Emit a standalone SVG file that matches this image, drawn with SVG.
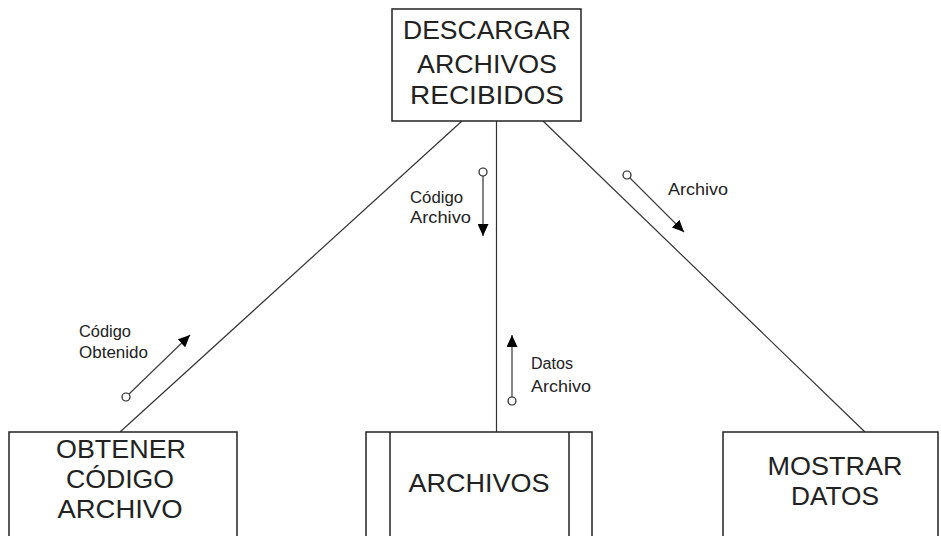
<svg xmlns="http://www.w3.org/2000/svg" width="941" height="536" viewBox="0 0 941 536">
<style>
.box{fill:#fff;stroke:#222;stroke-width:1.5}
.big{font-family:"Liberation Sans",Arial,sans-serif;font-size:26px;fill:#222;text-anchor:middle}
.small{font-family:"Liberation Sans",Arial,sans-serif;font-size:16px;fill:#222}
.conn{stroke:#333;stroke-width:1.2;fill:none}
.flow{stroke:#444;stroke-width:1.3;fill:none}
.dot{fill:#fff;stroke:#222;stroke-width:1.2}
</style>
<defs>
<marker id="ah" markerUnits="userSpaceOnUse" markerWidth="13" markerHeight="11" refX="12" refY="5.5" orient="auto">
<path d="M0,0 L12,5.5 L0,11 z" fill="#000"/>
</marker>
</defs>
<rect width="941" height="536" fill="#fff"/>
<g id="connectors">
<line class="conn" x1="462" y1="121" x2="120" y2="432"/>
<line class="conn" x1="496.5" y1="121" x2="496.5" y2="432"/>
<line class="conn" x1="543" y1="121" x2="865" y2="432"/>
<g id="flow-codigo-obtenido">
<line class="flow" x1="129" y1="394" x2="190" y2="335" marker-end="url(#ah)"/>
<circle class="dot" cx="126" cy="397" r="4"/>
<text class="small" x="79" y="337" textLength="52" lengthAdjust="spacingAndGlyphs">Código</text>
<text class="small" x="79" y="358" textLength="69" lengthAdjust="spacingAndGlyphs">Obtenido</text>
</g>
<g id="flow-codigo-archivo">
<line class="flow" x1="483" y1="176" x2="483" y2="236" marker-end="url(#ah)"/>
<circle class="dot" cx="483" cy="172" r="4"/>
<text class="small" x="410" y="203" textLength="53" lengthAdjust="spacingAndGlyphs">Código</text>
<text class="small" x="410" y="223" textLength="61" lengthAdjust="spacingAndGlyphs">Archivo</text>
</g>
<g id="flow-datos-archivo">
<line class="flow" x1="512" y1="397" x2="512" y2="335" marker-end="url(#ah)"/>
<circle class="dot" cx="512" cy="401" r="4"/>
<text class="small" x="531" y="369" textLength="42" lengthAdjust="spacingAndGlyphs">Datos</text>
<text class="small" x="531" y="392" textLength="60" lengthAdjust="spacingAndGlyphs">Archivo</text>
</g>
<g id="flow-archivo">
<line class="flow" x1="630" y1="178" x2="684" y2="232" marker-end="url(#ah)"/>
<circle class="dot" cx="627" cy="175" r="4"/>
<text class="small" x="668" y="195" textLength="60" lengthAdjust="spacingAndGlyphs">Archivo</text>
</g>
</g>
<g id="node-descargar">
<rect class="box" x="392" y="9" width="189" height="112"/>
<text class="big" x="487" y="39" textLength="168" lengthAdjust="spacingAndGlyphs">DESCARGAR</text>
<text class="big" x="487" y="73" textLength="140" lengthAdjust="spacingAndGlyphs">ARCHIVOS</text>
<text class="big" x="487" y="104" textLength="154" lengthAdjust="spacingAndGlyphs">RECIBIDOS</text>
</g>
<g id="node-obtener">
<rect class="box" x="9" y="432" width="228" height="110"/>
<text class="big" x="121" y="458" textLength="130" lengthAdjust="spacingAndGlyphs">OBTENER</text>
<text class="big" x="120" y="488" textLength="108" lengthAdjust="spacingAndGlyphs">CÓDIGO</text>
<text class="big" x="120" y="518" textLength="125" lengthAdjust="spacingAndGlyphs">ARCHIVO</text>
</g>
<g id="node-archivos">
<rect class="box" x="366" y="432" width="226" height="110"/>
<line class="box" x1="390" y1="432" x2="390" y2="542"/>
<line class="box" x1="569" y1="432" x2="569" y2="542"/>
<text class="big" x="479" y="492" textLength="141" lengthAdjust="spacingAndGlyphs">ARCHIVOS</text>
</g>
<g id="node-mostrar">
<rect class="box" x="723" y="432" width="215" height="110"/>
<text class="big" x="835" y="475" textLength="135" lengthAdjust="spacingAndGlyphs">MOSTRAR</text>
<text class="big" x="835" y="505" textLength="88" lengthAdjust="spacingAndGlyphs">DATOS</text>
</g>
</svg>
